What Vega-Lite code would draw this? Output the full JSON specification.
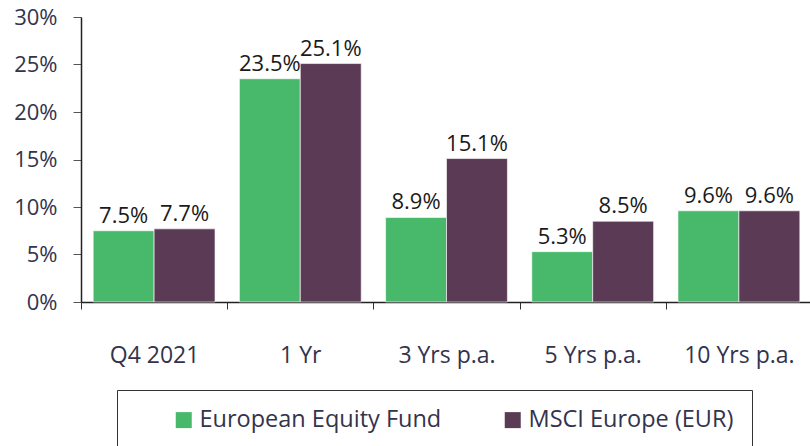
{
  "$schema": "https://vega.github.io/schema/vega-lite/v6.json",
  "width": 731,
  "height": 285,
  "autosize": {"type": "none"},
  "padding": {"left": 81, "top": 17, "right": 0, "bottom": 144},
  "background": "white",
  "config": {
    "view": {"stroke": null},
    "font": "Open Sans"
  },
  "data": {
    "values": [
      {"period": "Q4 2021", "series": "European Equity Fund", "value": 0.075},
      {"period": "Q4 2021", "series": "MSCI Europe (EUR)", "value": 0.077},
      {"period": "1 Yr", "series": "European Equity Fund", "value": 0.235},
      {"period": "1 Yr", "series": "MSCI Europe (EUR)", "value": 0.251},
      {"period": "3 Yrs p.a.", "series": "European Equity Fund", "value": 0.089},
      {"period": "3 Yrs p.a.", "series": "MSCI Europe (EUR)", "value": 0.151},
      {"period": "5 Yrs p.a.", "series": "European Equity Fund", "value": 0.053},
      {"period": "5 Yrs p.a.", "series": "MSCI Europe (EUR)", "value": 0.085},
      {"period": "10 Yrs p.a.", "series": "European Equity Fund", "value": 0.096},
      {"period": "10 Yrs p.a.", "series": "MSCI Europe (EUR)", "value": 0.096}
    ]
  },
  "encoding": {
    "x": {
      "field": "period",
      "type": "nominal",
      "sort": null,
      "scale": {"paddingInner": 0, "paddingOuter": 0},
      "axis": {
        "title": null,
        "labelAngle": 0,
        "labelFontSize": 23,
        "labelColor": "#33334d",
        "labelPadding": 35,
        "tickBand": "extent",
        "tickSize": 7,
        "tickColor": "#333333",
        "domainColor": "#222222",
        "domainWidth": 1.5
      }
    },
    "xOffset": {
      "field": "series",
      "type": "nominal",
      "scale": {"paddingInner": 0, "paddingOuter": 0.2}
    },
    "y": {
      "field": "value",
      "type": "quantitative",
      "scale": {"domain": [0, 0.3]},
      "axis": {
        "title": null,
        "values": [0, 0.05, 0.1, 0.15, 0.2, 0.25, 0.3],
        "format": ".0%",
        "grid": false,
        "labelFontSize": 22,
        "labelColor": "#33334d",
        "labelPadding": 16,
        "tickSize": 8,
        "tickColor": "#555555",
        "domainColor": "#222222",
        "domainWidth": 1.5
      }
    }
  },
  "layer": [
    {
      "mark": {"type": "bar", "stroke": "#ffffff", "strokeWidth": 1, "strokeOpacity": 0.6},
      "encoding": {
        "color": {
          "field": "series",
          "type": "nominal",
          "scale": {
            "domain": ["European Equity Fund", "MSCI Europe (EUR)"],
            "range": ["#48b96b", "#5b3a55"]
          },
          "legend": {
            "title": null,
            "orient": "none",
            "legendX": 36,
            "legendY": 373,
            "direction": "horizontal",
            "symbolType": "square",
            "symbolSize": 256,
            "symbolStrokeWidth": 0,
            "symbolOpacity": 1,
            "symbolOffset": 37,
            "labelFontSize": 23.5,
            "labelColor": "#33334d",
            "labelOffset": 4,
            "labelLimit": 400,
            "columnPadding": 22,
            "padding": 18,
            "strokeColor": "#333333"
          }
        }
      }
    },
    {
      "mark": {"type": "text", "baseline": "alphabetic", "dy": -8, "fontSize": 22, "color": "#1a1a1a"},
      "encoding": {
        "text": {"field": "value", "type": "quantitative", "format": ".1%"}
      }
    }
  ]
}
